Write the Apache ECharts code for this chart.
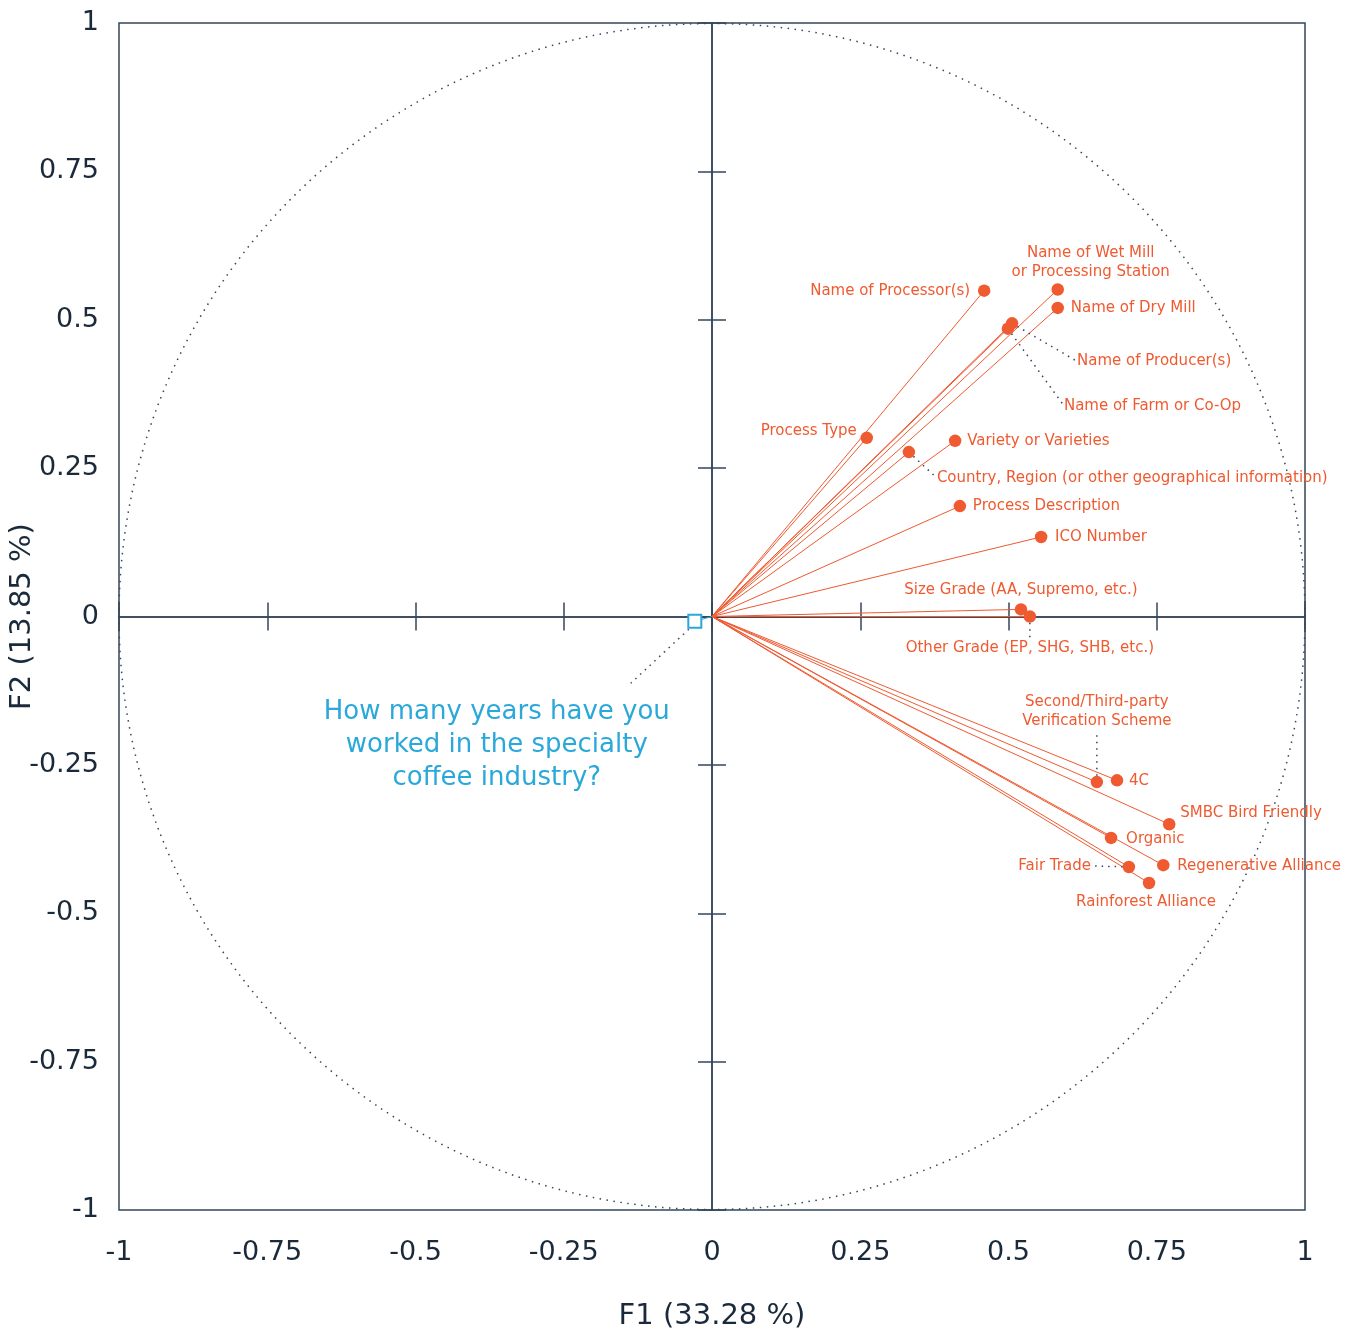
<!DOCTYPE html>
<html>
<head>
<meta charset="utf-8">
<script src="https://cdn.jsdelivr.net/npm/echarts@6/dist/echarts.min.js"></script>
<style>
  html, body { margin: 0; padding: 0; background: #ffffff; }
  #chart { width: 1351px; height: 1332px; }
</style>
</head>
<body>
<div id="chart"></div>
<script>
// Active variables: correlations with factors F1 and F2
const variables = [
  'Name of Processor(s)',
  'Name of Wet Mill or Processing Station',
  'Name of Dry Mill',
  'Name of Producer(s)',
  'Name of Farm or Co-Op',
  'Process Type',
  'Variety or Varieties',
  'Country, Region (or other geographical information)',
  'Process Description',
  'ICO Number',
  'Size Grade (AA, Supremo, etc.)',
  'Other Grade (EP, SHG, SHB, etc.)',
  'Second/Third-party Verification Scheme',
  '4C',
  'SMBC Bird Friendly',
  'Organic',
  'Regenerative Alliance',
  'Fair Trade',
  'Rainforest Alliance'
];
const f1 = [0.459, 0.583, 0.583, 0.506, 0.499, 0.261, 0.410, 0.332, 0.418, 0.555,
            0.521, 0.536, 0.649, 0.683, 0.771, 0.673, 0.761, 0.703, 0.737];
const f2 = [0.549, 0.551, 0.520, 0.494, 0.485, 0.301, 0.296, 0.277, 0.186, 0.134,
            0.012, 0.000, -0.279, -0.276, -0.350, -0.373, -0.419, -0.422, -0.449];

// Supplementary variable
const supplementary = ['How many years have you worked in the specialty coffee industry?'];
const supF1 = [-0.029];
const supF2 = [-0.008];

const xTitle = 'F1 (33.28 %)';
const yTitle = 'F2 (13.85 %)';

const ORANGE = '#ef5a30';
const BLUE = '#2aa8da';
const INK = '#1b2a3a';
const AXIS = '#34465a';
const FONT = '"DejaVu Sans", "Noto Sans", sans-serif';

// Label placement relative to each marker centre (pixels)
const labelPlacement = {
  'Name of Processor(s)': { dx: -14, dy: 0, align: 'right', va: 'middle' },
  'Name of Wet Mill or Processing Station': { dx: 33, dy: -8, align: 'center', va: 'bottom', text: 'Name of Wet Mill\nor Processing Station' },
  'Name of Dry Mill': { dx: 13, dy: 0, align: 'left', va: 'middle' },
  'Name of Producer(s)': { dx: 65, dy: 38, align: 'left', va: 'middle', leader: true },
  'Name of Farm or Co-Op': { dx: 56, dy: 77, align: 'left', va: 'middle', leader: true },
  'Process Type': { dx: -10, dy: -7, align: 'right', va: 'middle' },
  'Variety or Varieties': { dx: 12, dy: 0, align: 'left', va: 'middle' },
  'Country, Region (or other geographical information)': { dx: 28, dy: 26, align: 'left', va: 'middle', leader: true },
  'Process Description': { dx: 13, dy: 0, align: 'left', va: 'middle' },
  'ICO Number': { dx: 14, dy: 0, align: 'left', va: 'middle' },
  'Size Grade (AA, Supremo, etc.)': { dx: 0, dy: -19, align: 'center', va: 'middle' },
  'Other Grade (EP, SHG, SHB, etc.)': { dx: 0, dy: 32, align: 'center', va: 'middle', leader: true },
  'Second/Third-party Verification Scheme': { dx: 0, dy: -70, align: 'center', va: 'middle', leader: true, text: 'Second/Third-party\nVerification Scheme' },
  '4C': { dx: 12, dy: 1, align: 'left', va: 'middle' },
  'SMBC Bird Friendly': { dx: 11, dy: -11, align: 'left', va: 'middle' },
  'Organic': { dx: 15, dy: 1, align: 'left', va: 'middle' },
  'Regenerative Alliance': { dx: 14, dy: 1, align: 'left', va: 'middle' },
  'Fair Trade': { dx: -38, dy: -1, align: 'right', va: 'middle', leader: true },
  'Rainforest Alliance': { dx: -3, dy: 19, align: 'center', va: 'middle' }
};
const supPlacement = { dx: -198, dy: 124, align: 'center', va: 'middle', text: 'How many years have you\nworked in the specialty\ncoffee industry?' };
// dotted pointer from the supplementary marker towards its caption
const supPointer = { from: [-6, 8], to: [-64, 62] };

const leaderStyle = { color: AXIS, width: 1.5, type: [1.5, 5] };

function placeLabel(place) {
  return function (params) {
    const cx = params.rect.x + params.rect.width / 2;
    const cy = params.rect.y + params.rect.height / 2;
    const p = place(params.dataIndex);
    return { x: cx + p.dx, y: cy + p.dy, align: p.align, verticalAlign: p.va };
  };
}

function valueAxis(extra) {
  return Object.assign({
    type: 'value', min: -1, max: 1, interval: 0.25,
    splitLine: { show: false },
    axisLabel: { show: false },
    axisTick: { show: false },
    axisLine: { show: false }
  }, extra);
}

const crossLine = { show: true, onZero: true, lineStyle: { color: AXIS, width: 1.5 } };
const tickStyle = { color: AXIS, width: 1.5 };
const tickLabel = { show: true, color: INK, fontSize: 27, fontFamily: FONT };
const titleStyle = { color: INK, fontSize: 29, fontFamily: FONT };

const chart = echarts.init(document.getElementById('chart'), null, { renderer: 'canvas' });

chart.setOption({
  backgroundColor: '#ffffff',
  animation: false,
  grid: {
    left: 119, right: 46, top: 23, bottom: 122,
    containLabel: false,
    outerBoundsMode: 'none',
    show: true, borderColor: AXIS, borderWidth: 1.5, backgroundColor: 'transparent'
  },
  xAxis: [
    valueAxis({
      position: 'bottom',
      axisLine: { show: false, onZero: false },
      axisLabel: Object.assign({ margin: 29 }, tickLabel),
      name: xTitle, nameLocation: 'middle', nameGap: 92, nameMoveOverlap: false,
      nameTextStyle: titleStyle
    }),
    valueAxis({ position: 'bottom', axisLine: crossLine, axisTick: { show: true, length: 14, lineStyle: tickStyle } }),
    valueAxis({ position: 'bottom', axisLine: crossLine, axisTick: { show: true, inside: true, length: 14, lineStyle: tickStyle } })
  ],
  yAxis: [
    valueAxis({
      position: 'left',
      axisLine: { show: false, onZero: false },
      axisLabel: Object.assign({ margin: 20 }, tickLabel),
      name: yTitle, nameLocation: 'middle', nameGap: 82, nameMoveOverlap: false,
      nameTextStyle: titleStyle
    }),
    valueAxis({ position: 'left', axisLine: crossLine, axisTick: { show: true, length: 14, lineStyle: tickStyle } }),
    valueAxis({ position: 'left', axisLine: crossLine, axisTick: { show: true, inside: true, length: 14, lineStyle: tickStyle } })
  ],
  series: [
    {
      // correlation circle of radius 1
      type: 'custom',
      coordinateSystem: 'cartesian2d',
      silent: true,
      z: 1,
      data: [[0, 0]],
      renderItem: function (params, api) {
        const c = api.coord([0, 0]);
        const e = api.coord([1, 0]);
        return {
          type: 'circle',
          shape: { cx: c[0], cy: c[1], r: e[0] - c[0] },
          style: { fill: null, stroke: AXIS, lineWidth: 1.5, lineDash: [1.5, 5.5] }
        };
      }
    },
    {
      type: 'lines',
      coordinateSystem: 'cartesian2d',
      polyline: false,
      silent: true,
      z: 3,
      lineStyle: { color: ORANGE, width: 1, opacity: 1 },
      data: variables.map((n, i) => ({ coords: [[0, 0], [f1[i], f2[i]]] }))
    },
    {
      type: 'lines',
      coordinateSystem: 'cartesian2d',
      polyline: false,
      silent: true,
      z: 3,
      lineStyle: { color: BLUE, width: 1, opacity: 1 },
      data: supplementary.map((n, i) => ({ coords: [[0, 0], [supF1[i], supF2[i]]] }))
    },
    {
      type: 'scatter',
      z: 5,
      symbolSize: 12.5,
      itemStyle: { color: ORANGE, opacity: 1 },
      label: {
        show: true,
        color: ORANGE,
        fontSize: 15,
        lineHeight: 19,
        fontFamily: FONT,
        formatter: p => labelPlacement[p.name].text || p.name
      },
      labelLine: { show: false, lineStyle: leaderStyle },
      labelLayout: placeLabel(i => labelPlacement[variables[i]]),
      data: variables.map((n, i) => ({
        name: n,
        value: [f1[i], f2[i]],
        labelLine: { show: !!labelPlacement[n].leader, lineStyle: leaderStyle }
      }))
    },
    {
      type: 'scatter',
      z: 5,
      symbol: 'rect',
      symbolSize: 13,
      itemStyle: { color: '#ffffff', borderColor: BLUE, borderWidth: 2, opacity: 1 },
      label: {
        show: true,
        color: BLUE,
        fontSize: 26,
        lineHeight: 33,
        fontFamily: FONT,
        formatter: () => supPlacement.text
      },
      labelLayout: placeLabel(() => supPlacement),
      data: supplementary.map((n, i) => ({ name: n, value: [supF1[i], supF2[i]] }))
    }
  ]
});

// Dotted pointer anchored on the supplementary marker
const anchor = chart.convertToPixel({ xAxisIndex: 0, yAxisIndex: 0 }, [supF1[0], supF2[0]]);
chart.setOption({
  graphic: [{
    type: 'line',
    silent: true,
    z: 4,
    shape: {
      x1: anchor[0] + supPointer.from[0], y1: anchor[1] + supPointer.from[1],
      x2: anchor[0] + supPointer.to[0], y2: anchor[1] + supPointer.to[1]
    },
    style: { stroke: AXIS, lineWidth: 1.5, lineDash: [1.5, 5] }
  }]
});
</script>
</body>
</html>
